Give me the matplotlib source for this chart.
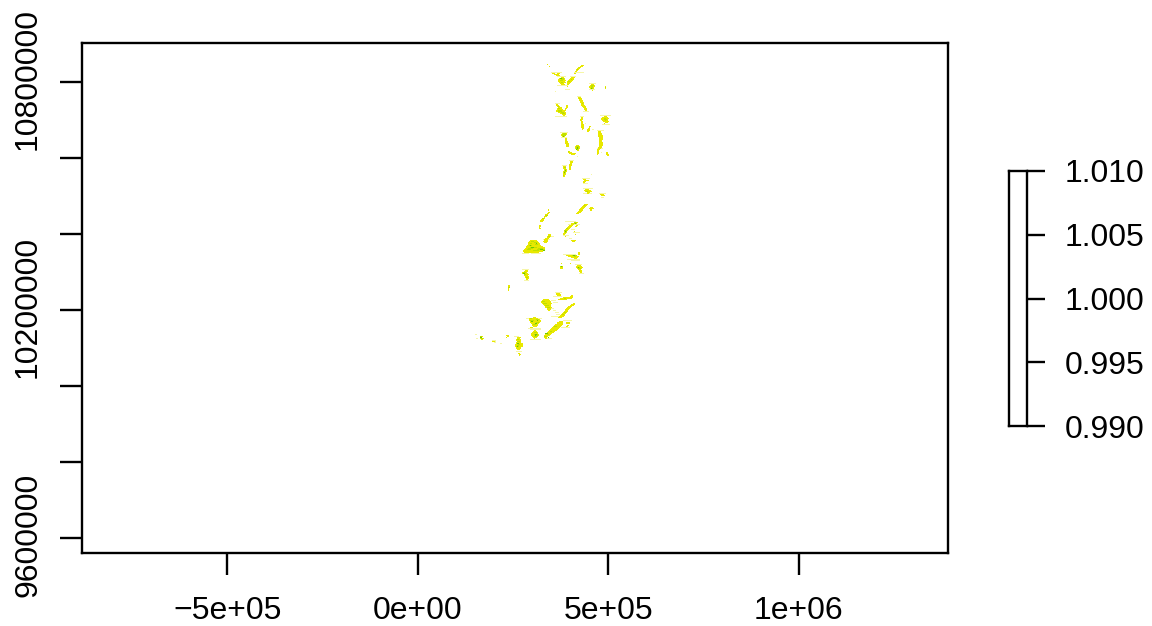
import matplotlib
matplotlib.use("Agg")
import matplotlib.pyplot as plt
from matplotlib.colors import ListedColormap
from matplotlib.transforms import ScaledTranslation
import numpy as np

plt.rcParams["font.family"] = ["Liberation Sans", "DejaVu Sans"]

# axis ticks
x_ticks = [-500000, 0, 500000, 1000000]
x_labels = ["\u22125e+05", "0e+00", "5e+05", "1e+06"]
y_ticks = [9600000, 9800000, 10000000, 10200000, 10400000, 10600000, 10800000]
y_labels = ["9600000", "", "", "10200000", "", "", "10800000"]
bar_ticks = [0.990, 0.995, 1.000, 1.005, 1.010]
bar_labels = ["0.990", "0.995", "1.000", "1.005", "1.010"]

# raster grid, map units
cell_w = 2626
cell_h = 2632
raster_x0 = 136500
raster_y0 = 10857900
n_rows = 300
n_cols = 150

# raster cells as (row, first col, last col), one list per value class
light_runs = [
    (5, 76, 76), (7, 78, 78), (13, 80, 90), (13, 103, 112), (17, 86, 94), (17, 99, 104),
    (26, 86, 96), (30, 94, 98), (32, 84, 84), (24, 118, 124), (30, 118, 123),
    (37, 106, 109), (52, 112, 117), (44, 84, 88), (57, 84, 95), (57, 109, 112),
    (64, 114, 114), (56, 129, 139), (65, 131, 138), (70, 121, 122), (71, 126, 132),
    (89, 126, 131), (73, 89, 96), (78, 90, 95), (93, 130, 130), (97, 106, 106),
    (106, 91, 95), (101, 98, 102), (115, 120, 120), (119, 111, 118), (124, 112, 116),
    (129, 112, 121), (134, 112, 120), (134, 128, 134), (138, 130, 132),
    (161, 94, 104), (164, 97, 108), (169, 100, 103), (172, 102, 108), (175, 92, 97),
    (178, 98, 100), (176, 80, 82), (179, 73, 78), (193, 52, 58), (193, 61, 70),
    (194, 92, 104), (199, 96, 108), (200, 100, 108), (204, 104, 110), (213, 108, 112),
    (209, 52, 58), (220, 54, 58), (232, 84, 90), (236, 82, 90), (240, 80, 84),
    (242, 82, 86), (248, 80, 82), (250, 82, 84), (252, 84, 87), (254, 85, 88),
    (256, 80, 87), (258, 56, 71), (268, 58, 70), (260, 92, 100), (267, 90, 98),
    (269, 60, 70), (279, 60, 70), (278, 76, 80), (280, 22, 25), (281, 23, 25),
    (282, 24, 25), (283, 30, 31), (276, 44, 48), (291, 46, 51), (274, 5, 6), (278, 6, 7),
]
yellow_runs = [
    (6, 110, 112), (7, 109, 111), (8, 107, 109), (9, 106, 108), (10, 105, 107),
    (11, 105, 106), (12, 104, 105), (14, 81, 83), (14, 86, 88), (14, 103, 104),
    (15, 83, 87), (16, 85, 88), (18, 90, 92), (19, 88, 93), (20, 87, 93),
    (21, 87, 94), (22, 87, 93), (23, 88, 94), (24, 89, 92), (25, 90, 93),
    (18, 100, 103), (19, 99, 102), (20, 98, 102), (21, 97, 101), (22, 96, 100),
    (23, 96, 99), (24, 96, 98), (25, 96, 97), (27, 96, 96), (25, 120, 122),
    (26, 119, 123), (27, 118, 123), (28, 118, 122), (29, 119, 122), (31, 121, 121),
    (27, 134, 134), (28, 134, 134), (29, 134, 134), (38, 107, 109), (39, 107, 110),
    (40, 108, 110), (41, 108, 111), (42, 109, 111), (43, 109, 112), (44, 110, 112),
    (45, 110, 112), (46, 110, 113), (47, 111, 114), (48, 112, 114), (49, 113, 115),
    (50, 113, 115), (51, 114, 115), (45, 85, 86), (46, 85, 87), (46, 95, 96),
    (47, 86, 88), (47, 95, 96), (48, 87, 90), (48, 95, 96), (49, 86, 90),
    (49, 94, 95), (50, 86, 91), (50, 94, 94), (51, 85, 92), (51, 93, 94),
    (52, 85, 93), (53, 87, 94), (54, 89, 94), (55, 91, 94), (56, 92, 93),
    (58, 110, 111), (59, 110, 111), (60, 109, 111), (61, 109, 110), (62, 110, 111),
    (63, 110, 111), (64, 110, 111), (65, 110, 112), (66, 110, 112), (67, 110, 112),
    (68, 110, 112), (69, 111, 112), (70, 111, 111), (67, 118, 119), (68, 118, 118),
    (69, 117, 118), (70, 116, 118), (71, 116, 118), (72, 116, 117), (57, 133, 135),
    (58, 131, 136), (59, 130, 137), (60, 130, 136), (61, 131, 136), (62, 132, 137),
    (63, 134, 136), (64, 133, 133), (72, 127, 129), (73, 127, 129), (74, 127, 130),
    (75, 127, 130), (76, 127, 131), (77, 127, 131), (78, 128, 131), (79, 128, 131),
    (80, 128, 131), (81, 128, 130), (82, 128, 130), (83, 128, 131), (84, 128, 131),
    (85, 128, 131), (86, 128, 131), (87, 128, 130), (88, 127, 130), (89, 127, 129),
    (90, 126, 128), (91, 126, 127), (92, 126, 127), (93, 126, 127), (94, 126, 127),
    (95, 126, 126), (93, 135, 136), (94, 135, 136), (95, 135, 137), (96, 136, 137),
    (74, 91, 95), (75, 90, 95), (76, 90, 94), (77, 91, 93), (79, 94, 95), (80, 94, 95),
    (81, 94, 95), (82, 94, 96), (83, 94, 96), (84, 94, 97), (85, 95, 97),
    (86, 95, 97), (87, 95, 97), (92, 97, 98), (93, 97, 100), (94, 98, 104),
    (95, 100, 103), (86, 105, 107), (87, 104, 108), (88, 104, 108), (89, 104, 108),
    (90, 105, 107), (91, 106, 107),
    (107, 92, 94), (108, 92, 94), (109, 92, 94), (110, 93, 95), (111, 93, 95),
    (112, 92, 95), (113, 92, 94), (114, 92, 94), (115, 92, 94), (116, 92, 93),
    (117, 92, 93), (102, 99, 101), (103, 99, 101), (104, 99, 100), (105, 98, 100),
    (106, 98, 100), (107, 98, 99), (108, 98, 99), (109, 98, 99), (110, 98, 99),
    (120, 112, 114), (121, 113, 117), (122, 112, 114), (123, 112, 113),
    (130, 114, 117), (131, 113, 119), (132, 114, 120), (133, 116, 118), (134, 116, 117),
    (135, 129, 132), (136, 130, 133),
    (145, 113, 116), (146, 112, 115), (147, 111, 114), (148, 110, 113), (148, 119, 121),
    (149, 109, 112), (149, 118, 122), (150, 108, 111), (150, 119, 120), (151, 107, 110),
    (152, 106, 109), (153, 105, 107), (150, 77, 77), (152, 77, 78), (153, 76, 77),
    (154, 75, 76), (155, 75, 76), (156, 74, 75), (157, 74, 74), (158, 72, 74),
    (159, 71, 73), (160, 70, 73), (161, 70, 72), (165, 69, 70), (166, 69, 70),
    (167, 69, 69), (168, 69, 70),
    (162, 103, 106), (163, 102, 105), (163, 100, 101), (164, 100, 102), (165, 98, 101),
    (165, 105, 106), (166, 97, 100), (166, 104, 105), (167, 96, 99), (168, 95, 98),
    (169, 94, 97), (170, 93, 96), (171, 93, 95), (171, 103, 103), (172, 93, 95),
    (173, 92, 94), (174, 92, 93), (174, 104, 104), (176, 94, 94), (180, 100, 104),
    (181, 101, 103),
    (174, 77, 79), (175, 77, 79), (176, 76, 79), (177, 76, 78), (178, 75, 77),
    (179, 74, 76), (180, 60, 66), (180, 74, 76), (181, 59, 67), (181, 73, 76),
    (182, 58, 68), (182, 74, 75), (183, 58, 69), (184, 58, 69), (185, 57, 70),
    (186, 56, 72), (187, 56, 74), (188, 55, 74), (189, 54, 74), (190, 53, 72),
    (191, 53, 72), (192, 54, 68),
    (192, 107, 108), (193, 107, 108), (194, 107, 108), (195, 95, 105), (196, 97, 107),
    (197, 100, 106), (198, 103, 105), (203, 99, 99), (203, 90, 90), (206, 89, 91),
    (207, 89, 91), (208, 89, 91), (205, 106, 109), (206, 105, 110), (207, 105, 111),
    (208, 106, 110), (209, 107, 109), (210, 108, 110), (211, 108, 110), (212, 109, 110),
    (210, 55, 57), (211, 54, 57), (212, 52, 56), (213, 52, 57), (214, 54, 58),
    (215, 54, 57), (216, 55, 58), (217, 55, 58), (218, 56, 58), (219, 56, 57),
    (225, 38, 39), (226, 38, 39), (227, 38, 39), (228, 38, 38), (229, 38, 38), (230, 38, 38),
    (233, 85, 88), (234, 85, 89), (235, 86, 89), (235, 100, 101), (236, 99, 101),
    (237, 92, 101), (238, 89, 100), (239, 87, 95),
    (239, 73, 77), (240, 72, 78), (241, 71, 79), (242, 71, 79), (243, 72, 80),
    (244, 73, 79), (245, 74, 79), (246, 75, 79), (247, 75, 80), (248, 76, 79),
    (249, 76, 79), (250, 77, 78),
    (243, 102, 103), (244, 100, 103), (245, 99, 102), (246, 97, 100), (247, 96, 99),
    (248, 95, 98), (249, 94, 97), (250, 94, 96), (251, 93, 96), (252, 92, 95),
    (253, 91, 94), (254, 90, 93), (255, 89, 93), (256, 88, 92), (257, 87, 90),
    (257, 63, 65), (258, 59, 61), (258, 62, 67), (259, 59, 69), (260, 59, 70),
    (261, 60, 70), (262, 60, 69), (263, 61, 68), (264, 62, 67), (265, 62, 67),
    (266, 63, 66), (267, 60, 62),
    (270, 64, 65), (271, 63, 66), (272, 62, 67), (273, 61, 67), (274, 61, 68),
    (275, 61, 68), (276, 62, 67), (277, 63, 66), (278, 64, 64),
    (261, 88, 91), (262, 86, 91), (263, 86, 91), (264, 84, 91), (265, 83, 90),
    (266, 82, 89), (267, 81, 88), (268, 80, 87), (269, 79, 86), (270, 78, 85),
    (271, 77, 83), (272, 76, 82), (273, 76, 80), (274, 75, 79), (275, 74, 78),
    (276, 74, 76), (277, 74, 75), (278, 75, 75),
    (262, 95, 98), (263, 95, 98), (265, 96, 97), (266, 95, 96),
    (277, 47, 50), (278, 47, 49), (279, 46, 50), (280, 46, 50), (281, 47, 50),
    (282, 46, 50), (283, 46, 52), (284, 45, 52), (285, 45, 52), (286, 45, 52),
    (287, 46, 50), (288, 46, 50), (289, 47, 49), (293, 48, 49), (294, 49, 50), (295, 49, 49),
    (275, 36, 38), (276, 37, 38), (277, 36, 36), (276, 10, 12), (278, 10, 13),
    (279, 11, 12), (281, 22, 24), (5, 76, 76), (7, 78, 78),
]
lime_runs = [
    (8, 108, 108), (10, 106, 106), (19, 89, 92), (20, 90, 92), (21, 89, 91), (23, 90, 91),
    (20, 100, 100), (22, 97, 98), (26, 120, 122), (27, 120, 121), (28, 120, 121), (29, 121, 121),
    (28, 134, 134), (39, 108, 108), (44, 111, 111), (49, 87, 88), (51, 87, 90), (52, 87, 90),
    (53, 90, 92), (54, 91, 93), (47, 87, 87), (59, 133, 134), (60, 133, 135), (61, 134, 134),
    (74, 92, 94), (75, 91, 94), (76, 91, 94), (77, 92, 92), (87, 105, 107), (88, 105, 107),
    (89, 105, 107), (90, 105, 106), (92, 97, 97), (108, 93, 94), (110, 94, 94), (112, 93, 94),
    (114, 93, 93), (116, 92, 92), (132, 115, 116), (146, 113, 113), (155, 75, 76), (158, 72, 73),
    (162, 103, 105), (163, 103, 104), (168, 95, 96), (170, 93, 95), (171, 94, 95), (172, 94, 94),
    (181, 61, 63), (182, 64, 66), (183, 60, 61), (184, 65, 67), (185, 59, 61), (187, 60, 66),
    (188, 58, 62), (188, 68, 72), (189, 57, 60), (189, 67, 74), (190, 63, 68), (176, 77, 78),
    (195, 101, 105), (196, 103, 104), (206, 89, 91), (207, 106, 108), (208, 107, 109),
    (212, 53, 55), (214, 54, 55), (217, 56, 57), (227, 38, 39), (238, 93, 94), (241, 72, 74),
    (243, 73, 75), (245, 75, 77), (247, 76, 78), (252, 93, 94), (254, 91, 92),
    (258, 60, 61), (260, 60, 63), (262, 66, 68), (264, 63, 65), (259, 66, 68),
    (272, 64, 66), (274, 64, 67), (275, 65, 67), (276, 64, 66), (266, 83, 85), (271, 79, 80),
    (274, 76, 77), (276, 74, 75), (279, 47, 48), (281, 47, 49), (284, 48, 49), (285, 47, 48),
    (286, 46, 48), (276, 10, 11), (278, 11, 12),
]
green_runs = [
    (19, 89, 90), (29, 120, 120), (77, 92, 92), (88, 106, 106), (89, 106, 106),
    (90, 105, 105), (111, 94, 94), (113, 93, 93), (171, 94, 94), (163, 104, 104),
    (185, 60, 60), (183, 66, 66), (187, 61, 63), (189, 70, 72), (190, 73, 74),
    (195, 102, 103), (207, 107, 107), (206, 90, 90), (213, 53, 54), (261, 61, 62),
    (263, 65, 66), (260, 67, 67), (274, 65, 66), (275, 65, 65), (273, 75, 76),
    (277, 77, 77), (283, 47, 48), (286, 47, 47), (277, 10, 11),
]
class_runs = [light_runs, yellow_runs, lime_runs, green_runs]
class_colors = ["#f6f6a8", "#e8e800", "#c0e000", "#6cc800"]

raster = np.full((n_rows, n_cols), np.nan)
for value, runs in enumerate(class_runs):
    for row, c0, c1 in runs:
        raster[row, c0:c1 + 1] = value

fig = plt.figure(figsize=(11.52, 6.26), dpi=100)
W, H = 1152, 626

# main map panel
ax = fig.add_axes([82 / W, 1 - 553 / H, (948 - 82) / W, (553 - 43) / H])
ax.imshow(raster, cmap=ListedColormap(class_colors), vmin=0, vmax=3, aspect="auto",
          interpolation="nearest",
          extent=[raster_x0, raster_x0 + n_cols * cell_w,
                  raster_y0 - n_rows * cell_h, raster_y0])
ax.set_xlim(-882000, 1392000)
ax.set_ylim(9560500, 10902600)
ax.set_xticks(x_ticks)
ax.set_xticklabels(x_labels)
ax.set_yticks(y_ticks)
ax.set_yticklabels(y_labels, rotation=90, va="center")
ax.tick_params(length=16, width=1.7, labelsize=23)
ax.tick_params(axis="x", pad=15)
ax.tick_params(axis="y", pad=12)
for lab in ax.get_yticklabels():
    lab.set_transform(lab.get_transform() + ScaledTranslation(0, 2 / 72, fig.dpi_scale_trans))
for s in ax.spines.values():
    s.set_linewidth(1.7)

# legend bar, nothing to fill because the range is flat
cax = fig.add_axes([1009 / W, 1 - 426 / H, (1027 - 1009) / W, (426 - 171) / H])
cax.set_ylim(0.990, 1.010)
cax.set_xticks([])
cax.yaxis.tick_right()
cax.set_yticks(bar_ticks)
cax.set_yticklabels(bar_labels)
cax.tick_params(length=13, width=1.7, labelsize=23, pad=14)
for s in cax.spines.values():
    s.set_linewidth(1.7)

fig.savefig("out.png", dpi=100)
